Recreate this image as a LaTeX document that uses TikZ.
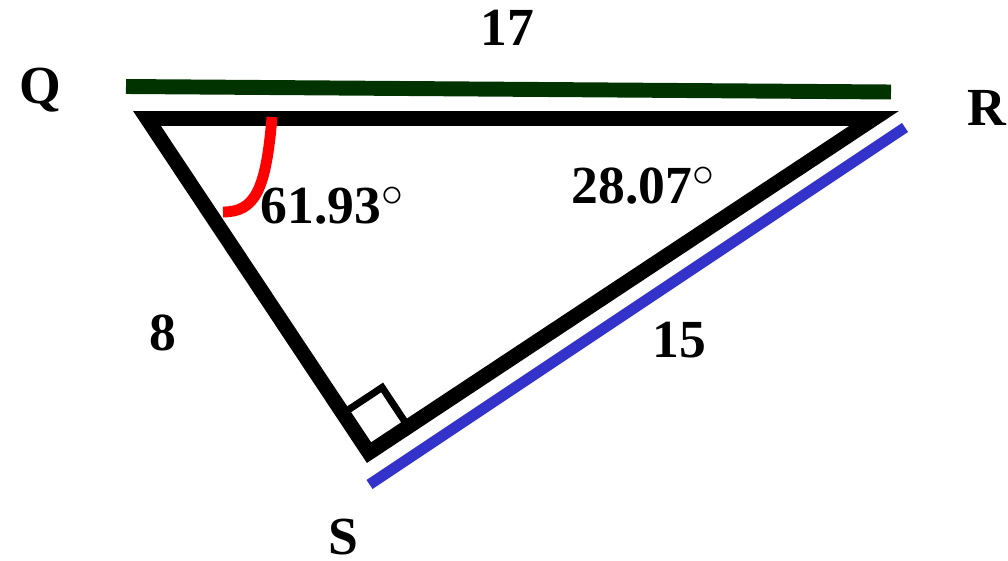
\documentclass[tikz,border=0pt]{standalone}
\usepackage{fontspec}
\setmainfont{Liberation Serif}
\usetikzlibrary{calc}
\definecolor{dgreen}{RGB}{0,51,0}
\definecolor{lblue}{RGB}{51,51,204}
\newcommand{\degring}{\raisebox{9.2pt}{\fontsize{27}{27}\selectfont$\circ$}}
\begin{document}
\begin{tikzpicture}[x=0.02cm,y=-0.02cm,
  lbl/.style={font=\fontsize{30.5}{36}\selectfont\bfseries, inner sep=0pt, anchor=base},
  tri/.style={line width=8.5pt, line join=miter},
  sq/.style={line width=4pt, line join=miter},
  measure/.style={line width=#1, line cap=butt}]
\useasboundingbox (0,0) rectangle (1008,561);
% vertices
\coordinate (Q) at (147,118.5);
\coordinate (R) at (874,118.5);
\coordinate (S) at (369,452.6);
% measure lines
\coordinate (g1) at (126,86.5);
\coordinate (g2) at (891,92);
\coordinate (b1) at (369.5,484.5);
\coordinate (b2) at (905,127.5);
\draw[measure=8.5pt, dgreen] (g1) -- (g2);
\draw[measure=6.2pt, lblue] (b1) -- (b2);
% right angle square
\coordinate (p1) at ($(S)!0.1174!(Q)$);
\coordinate (p2) at ($(S)!0.0776!(R)$);
\coordinate (p3) at ($(p1)+(p2)-(S)$);
\draw[sq] (p1) -- (p3) -- (p2);
% triangle
\draw[tri] (Q) -- (R) -- (S) -- cycle;
% angle arc
\coordinate (a1) at (272,117);
\coordinate (a2) at (223,212);
\draw[red, line width=6.2pt] (a1) .. controls (266,190) and (255,212) .. (a2);
% labels
\node[lbl] (lQ) at (40,103) {Q};
\node[lbl] (lR) at (987,125) {R};
\node[lbl] (lS) at (343,554) {S};
\node[lbl] (l17) at (507,45) {17};
\node[lbl] (l8) at (163,350) {8};
\node[lbl] (l15) at (679,357) {15};
\node[lbl] (aQ) at (332,223) {61.93\degring};
\node[lbl] (aR) at (643,203) {28.07\degring};
\end{tikzpicture}
\end{document}
